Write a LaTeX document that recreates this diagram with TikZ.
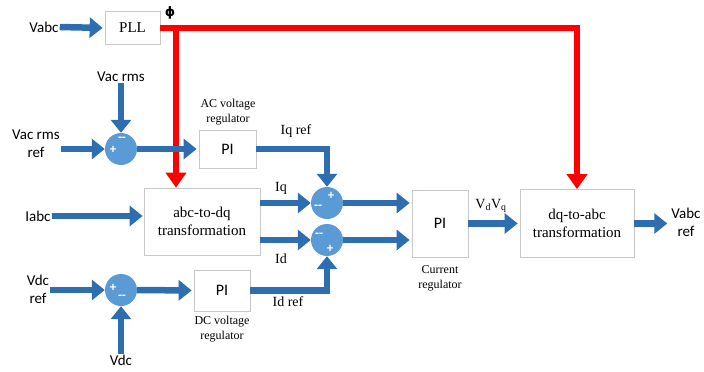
\documentclass[tikz,border=0pt]{standalone}
\usepackage{fontspec}
\setmainfont{Liberation Serif}
\newfontfamily\calib{Carlito}
\newfontfamily\djv{DejaVu Sans}
\usetikzlibrary{arrows.meta,calc}
\definecolor{arrblue}{HTML}{2E6DB0}
\definecolor{sumblue}{HTML}{5B9BD5}
\definecolor{boxgray}{HTML}{C8C8C8}
\begin{document}
\begin{tikzpicture}[x=1pt,y=-1pt,
  blk/.style={draw=boxgray, fill=white, line width=0.7pt, inner sep=0pt, align=center, font=\fontsize{15}{18}\selectfont},
  pibox/.style={blk, font=\calib\fontsize{16}{18}\selectfont},
  sumc/.style={circle, fill=sumblue, minimum size=32pt, inner sep=0pt},
  sgn/.style={text=white, font=\calib\bfseries\fontsize{13}{13}\selectfont, inner sep=0pt},
  slab/.style={font=\calib\fontsize{15}{18}\selectfont, align=center, inner sep=1pt},
  rlab/.style={font=\fontsize{14}{16}\selectfont, inner sep=1pt},
  note/.style={font=\fontsize{12}{15}\selectfont, align=center, inner sep=1pt},
  philab/.style={font=\djv\bfseries\fontsize{13}{13}\selectfont, inner sep=0pt},
  barrow/.style={draw=arrblue, line width=6.5pt, -{Triangle[length=13pt 0 0,width=20pt 0 0]}},
  rline/.style={draw=red, line width=5.5pt},
  rarrow/.style={rline, -{Triangle[length=15pt 0 0,width=20pt 0 0]}},
]
\useasboundingbox (0,0) rectangle (704,372);

% blocks
\node[blk, minimum width=55pt, minimum height=33pt] (pll) at (132.5,28) {PLL};
\node[blk, minimum width=116pt, minimum height=67pt] (abc) at (202,221.5) {abc-to-dq\\transformation};
\node[pibox, minimum width=57pt, minimum height=38pt] (pi1) at (227.5,149) {PI};
\node[pibox, minimum width=56pt, minimum height=67pt] (pi2) at (440,223.5) {PI};
\node[pibox, minimum width=56pt, minimum height=41pt] (pidc) at (222,290.5) {PI};
\node[blk, minimum width=114pt, minimum height=68pt] (dq) at (577,223.5) {dq-to-abc\\transformation};

% summing junctions
\node[sumc] (s1) at (121,149) {};
\node[sumc] (s2) at (327,203) {};
\node[sumc] (s3) at (327,240) {};
\node[sumc] (s4) at (121,290) {};
\node[sgn] (s1a) at ($(s1)+(1,-10)$) {--};
\node[sgn] (s1b) at ($(s1)+(-8,1)$) {+};
\node[sgn] (s2a) at ($(s2)+(4,-7)$) {+};
\node[sgn] (s2b) at ($(s2)+(-9,4)$) {--};
\node[sgn] (s3a) at ($(s3)+(-8,-5)$) {--};
\node[sgn] (s3b) at ($(s3)+(3,9)$) {+};
\node[sgn] (s4a) at ($(s4)+(-8,-2)$) {+};
\node[sgn] (s4b) at ($(s4)+(1,7)$) {--};

% outer labels
\node[slab] (vabc) at (44,27) {Vabc};
\node[slab] (vacrms) at (121,77) {Vac rms};
\node[slab] (vacref) at (36,144) {Vac rms\\ref};
\node[slab] (iabc) at (38,216) {Iabc};
\node[slab] (vdcref) at (38,289) {Vdc\\ref};
\node[slab] (vdc) at (121,360) {Vdc};
\node[slab] (vabcref) at (686,222) {Vabc\\ref};

% small labels
\node[philab] (phi) at (170,13) {ϕ};
\node[note] (acreg) at (228,112) {AC voltage\\regulator};
\node[note] (dcreg) at (222,329) {DC voltage\\regulator};
\node[note] (curreg) at (440,278) {Current\\regulator};
\node[rlab] (iqref) at (296,131) {Iq ref};
\node[rlab] (idref) at (288,302) {Id ref};
\node[rlab] (iq) at (281,188) {Iq};
\node[rlab] (id) at (281,259) {Id};
\node[rlab] (vdvq) at (491,206) {V$_{\mathrm{d}}$V$_{\mathrm{q}}$};

% red phase signal
\coordinate (tap) at (176,28);
\draw[rarrow] (pll.east) -| (dq.north);
\draw[rarrow] (tap) -- (tap |- abc.north);

% blue signal arrows
\draw[barrow, shorten >=2pt] (vabc.east) -- (pll.west);
\draw[barrow] (vacrms.south) -- (s1.north);
\draw[barrow] (vacref.east |- s1) -- (s1.west);
\draw[barrow, shorten >=2pt] (s1.east) -- (pi1.west);
\draw[barrow] (pi1.east) -| (s2.north);
\draw[barrow, shorten >=1pt] (iabc.east) -- (iabc.east -| abc.west);
\draw[barrow] (abc.east |- s2) -- (s2.west);
\draw[barrow] (abc.east |- s3) -- (s3.west);
\draw[barrow, shorten >=2pt] (s2.east) -- (s2 -| pi2.west);
\draw[barrow, shorten >=2pt] (s3.east) -- (s3 -| pi2.west);
\draw[barrow, shorten >=2pt] (pi2.east) -- (dq.west);
\draw[barrow, shorten >=3pt] (dq.east) -- (dq.east -| vabcref.west);
\draw[barrow] (vdcref.east |- s4) -- (s4.west);
\draw[barrow, shorten >=2pt] (s4.east) -- (pidc.west);
\draw[barrow] (pidc.east) -| (s3.south);
\draw[barrow] (vdc.north) -- (s4.south);
\end{tikzpicture}
\end{document}
